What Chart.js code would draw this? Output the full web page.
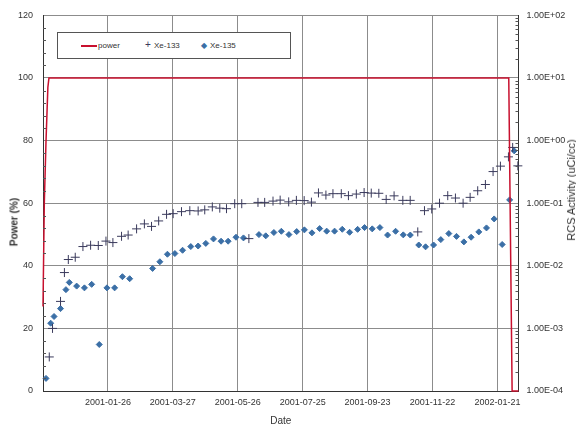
<!DOCTYPE html>
<html lang="en">
<head>
  <meta charset="UTF-8">
  <title>Power and RCS Activity</title>
  <script src="https://cdn.jsdelivr.net/npm/chart.js"></script>
  <style>
    body {
      margin: 0;
      background: #fff;
      font-family: 'Liberation Sans Narrow', 'Liberation Sans', Arial, sans-serif;
      color: #333;
    }

    .wrap {
      position: relative;
      width: 576px;
      height: 427px;
      overflow: hidden;
    }

    .axis-title {
      position: absolute;
      white-space: nowrap;
      transform: translate(-50%, -50%) rotate(-90deg);
      font-size: 10px;
      color: #333;
    }

    .legend {
      position: absolute;
      left: 57px;
      top: 32px;
      width: 232px;
      height: 25px;
      border: 1px solid #555;
      background: #fff;
      font-size: 8px;
      color: #333;
    }

    .legend span {
      position: absolute;
      top: 8px;
      line-height: 9px;
    }
  </style>
</head>
<body>

<div class="wrap">
  <canvas id="rcsChart"></canvas>
  <div class="axis-title" style="left:14px; top:222px; font-weight:bold;">Power (%)</div>
  <div class="axis-title" style="left:571px; top:190px; font-size:11px;">RCS Activity (uCi/cc)</div>
  <div class="legend">
    <span style="left:23px; top:12px; width:16px; height:2px; background:#c8102e;"></span>
    <span style="left:40px;">power</span>
    <span style="left:87px; top:7px; font-size:10px; color:#3a3a5c;">+</span>
    <span style="left:96px;">Xe-133</span>
    <span style="left:143px; color:#3b6fa6;">&#9670;</span>
    <span style="left:152px;">Xe-135</span>
  </div>
</div>

<script>
  // x values are days after 2000-11-27 (left edge of the axis)
  const tickDays = [60, 120, 180, 240, 300, 360, 420];
  const tickDates = ['2001-01-26', '2001-03-27', '2001-05-26', '2001-07-25',
                     '2001-09-23', '2001-11-22', '2002-01-21'];

  const powerDays = [0, 1.2, 2.8, 4.5, 5.5, 430.5, 433.6, 439.5];
  const powerPct  = [27, 60, 80, 97, 100, 100, 0, 0];

  const xe133Days = [5.8, 8.8, 16.2, 19.8, 23.4, 29.8, 36.9, 44.0, 51.1, 58.2,
    64.6, 72.6, 78.7, 86.5, 93.7, 100.3, 106.9, 114.2, 120.3, 128.0,
    135.7, 143.4, 149.5, 156.5, 163.4, 169.6, 177.2, 183.7, 190.3, 198.7,
    204.9, 212.6, 219.2, 227.1, 234.2, 241.4, 248.1, 254.6, 261.5, 268.0,
    275.7, 282.3, 289.6, 296.8, 303.4, 310.4, 317.2, 324.5, 332.6, 339.4,
    346.4, 352.6, 359.3, 366.5, 374.1, 381.2, 388.3, 394.8, 401.8, 408.9,
    416.0, 422.8, 430.2, 434.1, 438.9];
  const xe133Act = [3.5e-4, 1.0e-3, 2.7e-3, 7.8e-3, 1.26e-2, 1.37e-2, 2.03e-2, 2.13e-2, 2.11e-2, 2.48e-2,
    2.35e-2, 2.96e-2, 3.10e-2, 3.89e-2, 4.67e-2, 4.26e-2, 5.21e-2, 6.64e-2, 6.81e-2, 7.33e-2,
    7.6e-2, 7.52e-2, 7.83e-2, 8.73e-2, 8.33e-2, 8.18e-2, 9.82e-2, 9.82e-2, 2.72e-2, 0.103,
    0.103, 0.108, 0.112, 0.105, 0.111, 0.110, 0.104, 0.146, 0.135, 0.142,
    0.142, 0.132, 0.140, 0.148, 0.145, 0.144, 0.115, 0.131, 0.111, 0.111,
    3.48e-2, 7.6e-2, 8.09e-2, 0.100, 0.132, 0.121, 0.100, 0.124, 0.158, 0.199,
    0.320, 0.391, 0.550, 0.778, 0.395];

  const xe135Days = [2.8, 7.1, 10.2, 16.2, 21.2, 24.3, 31.1, 38.3, 45.0, 52.0,
    59.1, 66.2, 73.4, 80.1, 101.3, 108.0, 115.0, 121.9, 129.0, 136.6,
    143.4, 150.5, 157.6, 164.6, 171.1, 178.4, 185.3, 199.6, 205.9, 213.4,
    220.3, 227.3, 234.5, 241.6, 248.6, 255.7, 262.2, 269.5, 276.6, 283.4,
    290.8, 297.2, 304.3, 311.4, 318.5, 325.9, 333.0, 339.5, 347.3, 353.6,
    361.0, 367.7, 375.1, 382.2, 389.0, 395.7, 402.8, 409.9, 417.0, 424.4,
    431.3, 435.5];
  const xe135Act = [1.59e-4, 1.21e-3, 1.55e-3, 2.07e-3, 4.16e-3, 5.43e-3, 4.74e-3, 4.44e-3, 5.05e-3, 5.53e-4,
    4.44e-3, 4.44e-3, 6.7e-3, 6.22e-3, 9.08e-3, 1.16e-2, 1.53e-2, 1.57e-2, 1.77e-2, 2.03e-2,
    2.07e-2, 2.28e-2, 2.69e-2, 2.47e-2, 2.47e-2, 2.86e-2, 2.79e-2, 3.15e-2, 3.01e-2, 3.40e-2,
    3.56e-2, 3.15e-2, 3.52e-2, 3.75e-2, 3.36e-2, 3.93e-2, 3.58e-2, 3.58e-2, 3.83e-2, 3.43e-2,
    3.82e-2, 4.08e-2, 3.89e-2, 4.08e-2, 3.10e-2, 3.56e-2, 3.12e-2, 3.10e-2, 2.15e-2, 2.01e-2,
    2.15e-2, 2.62e-2, 3.27e-2, 2.95e-2, 2.41e-2, 2.86e-2, 3.48e-2, 4.03e-2, 5.61e-2, 2.19e-2,
    0.113, 0.686];

  const activityTicks = [1e-4, 1e-3, 1e-2, 1e-1, 1e0, 1e1, 1e2];

  const toPoints = (xs, ys) => xs.map((x, i) => ({ x: x, y: ys[i] }));

  function sciLabel(v) {
    const e = Math.round(Math.log10(v));
    const sign = e < 0 ? '-' : '+';
    return '1.00E' + sign + String(Math.abs(e)).padStart(2, '0');
  }

  const tickFont = { family: "'Liberation Sans Narrow', 'Liberation Sans', Arial", size: 9 };
  const gridGray = '#8c8c8c';

  // small inward ticks on both value axes
  const minorTicks = {
    id: 'minorTicks',
    afterDatasetsDraw(chart) {
      const ctx = chart.ctx;
      const left = chart.scales.y;
      const right = chart.scales.y2;
      const area = chart.chartArea;
      ctx.save();
      ctx.strokeStyle = '#555';
      ctx.lineWidth = 1;
      ctx.beginPath();
      for (let v = 4; v < 120; v += 4) {
        if (v % 20 === 0) continue;
        const py = Math.round(left.getPixelForValue(v)) + 0.5;
        ctx.moveTo(area.left, py);
        ctx.lineTo(area.left + 3, py);
      }
      for (let e = -4; e < 2; e++) {
        for (let m = 2; m <= 9; m++) {
          const py = Math.round(right.getPixelForValue(m * Math.pow(10, e))) + 0.5;
          ctx.moveTo(area.right - 3, py);
          ctx.lineTo(area.right, py);
        }
      }
      ctx.stroke();
      ctx.restore();
    }
  };

  const ctx = document.getElementById('rcsChart').getContext('2d');

  new Chart(ctx, {
    type: 'scatter',
    data: {
      datasets: [
        {
          label: 'power',
          data: toPoints(powerDays, powerPct),
          yAxisID: 'y',
          showLine: true,
          borderColor: '#c8102e',
          borderWidth: 1.5,
          pointRadius: 0,
          tension: 0,
          clip: false
        },
        {
          label: 'Xe-133',
          data: toPoints(xe133Days, xe133Act),
          yAxisID: 'y2',
          pointStyle: 'cross',
          pointRadius: 4.5,
          borderColor: '#3a3a5c',
          borderWidth: 1,
          clip: false
        },
        {
          label: 'Xe-135',
          data: toPoints(xe135Days, xe135Act),
          yAxisID: 'y2',
          pointStyle: 'rectRot',
          pointRadius: 3,
          backgroundColor: '#3b6fa6',
          borderColor: '#3b6fa6',
          borderWidth: 1,
          clip: false
        }
      ]
    },
    options: {
      responsive: true,
      maintainAspectRatio: false,
      animation: false,
      layout: { padding: { top: 14, left: 0, right: 0, bottom: 0 } },
      plugins: {
        legend: { display: false },
        tooltip: { enabled: false }
      },
      scales: {
        x: {
          type: 'linear',
          min: 0,
          max: 439.5,
          afterBuildTicks: axis => { axis.ticks = tickDays.map(v => ({ value: v })); },
          afterFit: axis => { axis.height = 36; },
          ticks: {
            autoSkip: false,
            maxRotation: 0,
            padding: 6,
            color: '#333',
            font: tickFont,
            callback: (v, i) => tickDates[i]
          },
          grid: { color: gridGray, lineWidth: 1, drawTicks: false },
          border: { display: true, color: '#333', width: 1 },
          title: {
            display: true,
            text: 'Date',
            color: '#333',
            font: { family: tickFont.family, size: 10 },
            padding: { top: 0, bottom: 0 }
          }
        },
        y: {
          position: 'left',
          min: 0,
          max: 120,
          afterFit: axis => { axis.width = 43; },
          ticks: { stepSize: 20, padding: 10, color: '#333', font: tickFont },
          grid: { color: gridGray, lineWidth: 1, drawTicks: false },
          border: { display: true, color: '#333', width: 1 }
        },
        y2: {
          type: 'logarithmic',
          position: 'right',
          min: 1e-4,
          max: 1e2,
          afterBuildTicks: axis => { axis.ticks = activityTicks.map(v => ({ value: v, major: true })); },
          afterFit: axis => { axis.width = 57.5; },
          ticks: {
            autoSkip: false,
            padding: 8,
            color: '#333',
            font: tickFont,
            callback: v => sciLabel(v)
          },
          grid: { display: false, drawTicks: false },
          border: { display: true, color: '#333', width: 1 }
        }
      }
    },
    plugins: [minorTicks]
  });
</script>

</body>
</html>
